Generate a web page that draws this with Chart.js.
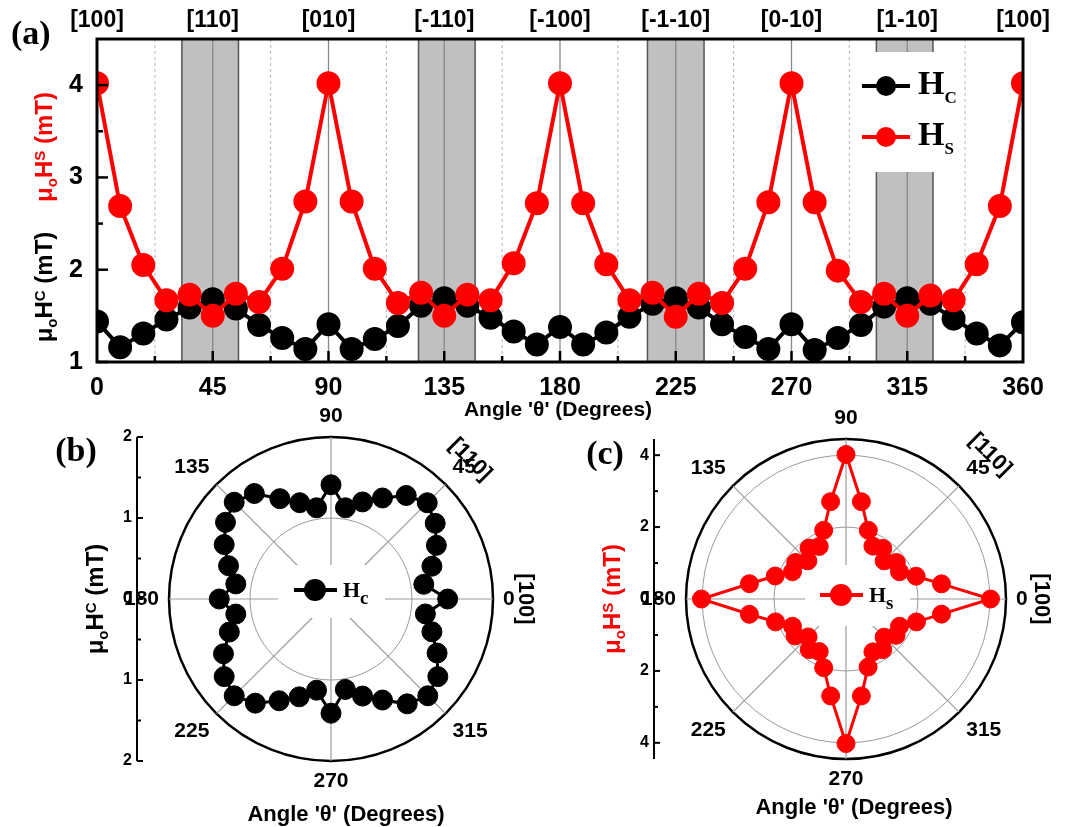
<!DOCTYPE html>
<html>
<head>
<meta charset="utf-8">
<title>Hc / Hs angular dependence</title>
<script src="https://cdn.jsdelivr.net/npm/chart.js@4.4.0/dist/chart.umd.min.js"></script>
<style>
  body { margin: 0; background: #fff; }
  .panel { position: absolute; }
</style>
</head>
<body>
<div class="panel" style="left:0;top:0;width:1065px;height:420px"><canvas id="chartA"></canvas></div>
<div class="panel" style="left:0;top:395px;width:550px;height:432px"><canvas id="chartB"></canvas></div>
<div class="panel" style="left:530px;top:395px;width:535px;height:432px"><canvas id="chartC"></canvas></div>
<script>
// angle (deg) of every measurement
const angles = [0, 9, 18, 27, 36, 45, 54, 63, 72, 81, 90, 99, 108, 117, 126, 135, 144, 153, 162, 171,
    180, 189, 198, 207, 216, 225, 234, 243, 252, 261, 270, 279, 288, 297, 306, 315, 324, 333, 342, 351, 360];
// coercive field Hc (mT)
const hc = [1.44, 1.16, 1.31, 1.46, 1.59, 1.68, 1.58, 1.40, 1.26, 1.14, 1.41, 1.14, 1.25, 1.39, 1.61, 1.69,
    1.61, 1.48, 1.33, 1.19, 1.38, 1.19, 1.32, 1.49, 1.63, 1.69, 1.59, 1.41, 1.27, 1.14, 1.41, 1.13, 1.26,
    1.40, 1.60, 1.69, 1.63, 1.47, 1.31, 1.18, 1.43];
// saturation field Hs (mT)
const hs = [4.02, 2.69, 2.05, 1.67, 1.73, 1.50, 1.74, 1.65, 2.01, 2.74, 4.02, 2.74, 2.01, 1.64, 1.75, 1.50,
    1.73, 1.67, 2.07, 2.72, 4.02, 2.72, 2.06, 1.67, 1.75, 1.49, 1.74, 1.64, 2.01, 2.73, 4.02, 2.73, 1.99,
    1.65, 1.74, 1.50, 1.72, 1.67, 2.06, 2.69, 4.02];

const xMajor = [0, 45, 90, 135, 180, 225, 270, 315, 360];
const xMinor = [22.5, 67.5, 112.5, 157.5, 202.5, 247.5, 292.5, 337.5];
const yMajor = [1, 2, 3, 4];
const yMinor = [1.5, 2.5, 3.5];
const dirLabels = ["[100]", "[110]", "[010]", "[-110]", "[-100]", "[-1-10]", "[0-10]", "[1-10]", "[100]"];
const bands = [[33, 55], [125, 147], [214, 236], [303, 325]];

const polarMarks = [0, 45, 90, 135, 180, 225, 270, 315];
// radar goes clockwise from startAngle, so list the angles backwards
const polarLabels = angles.slice(0, 40).map((a, i) => angles[(40 - i) % 40]);

const SANS = "'Liberation Sans', Arial, sans-serif";
const SERIF = "'Liberation Serif', 'Times New Roman', serif";

function drawRich(ctx, parts, x, y, rot, color) {
    ctx.save();
    ctx.translate(x, y);
    if (rot) ctx.rotate(rot);
    ctx.fillStyle = color;
    ctx.textAlign = "left";
    ctx.textBaseline = "alphabetic";
    let w = 0;
    parts.forEach(p => { ctx.font = p.font; w += ctx.measureText(p.t).width; });
    let px = -w / 2;
    parts.forEach(p => {
        ctx.font = p.font;
        ctx.fillText(p.t, px, p.dy);
        px += ctx.measureText(p.t).width;
    });
    ctx.restore();
}

function fieldTitle(letter, size) {
    const big = "bold " + size + "px " + SANS;
    const small = "bold " + Math.round(size * 0.62) + "px " + SANS;
    const b = Math.round(size * 0.35);
    return [
        { t: "\u03bc", font: big, dy: b },
        { t: "o", font: small, dy: b + 5 },
        { t: "H", font: big, dy: b },
        { t: letter, font: small, dy: b - 7 },
        { t: " (mT)", font: big, dy: b }
    ];
}

function line(ctx, x0, y0, x1, y1) {
    ctx.beginPath();
    ctx.moveTo(x0, y0);
    ctx.lineTo(x1, y1);
    ctx.stroke();
}

function legendItem(ctx, x, y, len, mx, rad, color, sub, bigSize, subSize, subDrop, gap) {
    ctx.strokeStyle = color;
    ctx.fillStyle = color;
    ctx.lineWidth = 4;
    line(ctx, x, y, x + len, y);
    ctx.beginPath();
    ctx.arc(mx, y, rad, 0, Math.PI * 2);
    ctx.fill();
    ctx.fillStyle = "#000";
    ctx.textAlign = "left";
    ctx.textBaseline = "alphabetic";
    ctx.font = "bold " + bigSize + "px " + SERIF;
    const tx = x + len + gap;
    ctx.fillText("H", tx, y + 8);
    const hw = ctx.measureText("H").width;
    ctx.font = "bold " + subSize + "px " + SERIF;
    ctx.fillText(sub, tx + hw, y + 8 + subDrop);
}

// ---------- (a) cartesian panel ----------
const panelA = {
    id: "panelA",
    beforeDatasetsDraw(chart) {
        const { ctx, chartArea: ca, scales: { x } } = chart;
        ctx.save();
        bands.forEach(b => {
            const x0 = x.getPixelForValue(b[0]);
            const x1 = x.getPixelForValue(b[1]);
            ctx.fillStyle = "#c0c0c0";
            ctx.fillRect(x0, ca.top, x1 - x0, ca.bottom - ca.top);
            ctx.strokeStyle = "#555";
            ctx.lineWidth = 1.5;
            line(ctx, x0, ca.top, x0, ca.bottom);
            line(ctx, x1, ca.top, x1, ca.bottom);
        });
        ctx.strokeStyle = "#b5b5b5";
        ctx.lineWidth = 1;
        ctx.setLineDash([3, 3]);
        xMinor.forEach(v => {
            const px = x.getPixelForValue(v);
            line(ctx, px, ca.top, px, ca.bottom);
        });
        ctx.setLineDash([]);
        ctx.strokeStyle = "#888";
        ctx.lineWidth = 1.3;
        xMajor.slice(1, -1).forEach(v => {
            const px = x.getPixelForValue(v);
            line(ctx, px, ca.top, px, ca.bottom);
        });
        // white box behind the legend
        ctx.fillStyle = "#fff";
        ctx.fillRect(ca.right - 165, ca.top + 13, 97, 120);
        ctx.restore();
    },
    afterDatasetsDraw(chart) {
        const { ctx, chartArea: ca, scales: { x, y } } = chart;
        ctx.save();
        ctx.strokeStyle = "#000";
        ctx.lineWidth = 3;
        ctx.strokeRect(ca.left, ca.top, ca.right - ca.left, ca.bottom - ca.top);
        ctx.lineWidth = 2.5;
        xMajor.slice(1, -1).forEach(v => {
            const px = x.getPixelForValue(v);
            line(ctx, px, ca.bottom, px, ca.bottom - 11);
        });
        xMinor.forEach(v => {
            const px = x.getPixelForValue(v);
            line(ctx, px, ca.bottom, px, ca.bottom - 6);
        });
        yMajor.forEach(v => {
            const py = y.getPixelForValue(v);
            line(ctx, ca.left, py, ca.left + 11, py);
        });
        yMinor.forEach(v => {
            const py = y.getPixelForValue(v);
            line(ctx, ca.left, py, ca.left + 6, py);
        });
        // legend
        legendItem(ctx, ca.right - 161, ca.top + 47, 48, ca.right - 137, 10, "#000", "C", 34, 17, 9, 8);
        legendItem(ctx, ca.right - 161, ca.top + 98, 48, ca.right - 137, 10, "#ff0000", "S", 34, 17, 9, 8);
        ctx.restore();
    },
    afterDraw(chart) {
        const { ctx, chartArea: ca } = chart;
        ctx.save();
        ctx.fillStyle = "#000";
        ctx.font = "bold 34px " + SERIF;
        ctx.textAlign = "left";
        ctx.textBaseline = "alphabetic";
        ctx.fillText("(a)", 11, 44);
        ctx.font = "bold 21px " + SANS;
        ctx.textAlign = "center";
        ctx.textBaseline = "middle";
        ctx.fillText("Angle '\u03b8' (Degrees)", (ca.left + ca.right) / 2 - 2, 410);
        ctx.restore();
        drawRich(ctx, fieldTitle("S", 24), 44, 147, -Math.PI / 2, "#ff0000");
        drawRich(ctx, fieldTitle("C", 24), 44, 287, -Math.PI / 2, "#000");
    }
};

new Chart(document.getElementById("chartA"), {
    type: "line",
    data: {
        datasets: [
            {
                label: "Hc",
                data: angles.map((a, i) => ({ x: a, y: hc[i] })),
                borderColor: "#000",
                backgroundColor: "#000",
                pointBackgroundColor: "#000",
                pointBorderColor: "#000",
                borderWidth: 4,
                pointRadius: 10,
                order: 2
            },
            {
                label: "Hs",
                data: angles.map((a, i) => ({ x: a, y: hs[i] })),
                borderColor: "#ff0000",
                backgroundColor: "#ff0000",
                pointBackgroundColor: "#ff0000",
                pointBorderColor: "#ff0000",
                borderWidth: 4,
                pointRadius: 10,
                order: 1
            }
        ]
    },
    options: {
        animation: false,
        responsive: true,
        maintainAspectRatio: false,
        events: [],
        layout: { padding: { left: 0, right: 42, top: 0, bottom: 0 } },
        plugins: { legend: { display: false }, tooltip: { enabled: false } },
        scales: {
            x: {
                type: "linear",
                position: "bottom",
                min: 0,
                max: 360,
                afterFit: s => { s.height = 58; },
                grid: { display: false, drawTicks: false },
                border: { display: false },
                ticks: {
                    stepSize: 45,
                    padding: 11,
                    maxRotation: 0,
                    autoSkip: false,
                    color: "#000",
                    font: { family: SANS, size: 25, weight: "bold" }
                }
            },
            xTop: {
                type: "linear",
                axis: "x",
                position: "top",
                min: 0,
                max: 360,
                afterFit: s => { s.height = 39; },
                grid: { display: false, drawTicks: false },
                border: { display: false },
                ticks: {
                    stepSize: 45,
                    padding: 5,
                    maxRotation: 0,
                    autoSkip: false,
                    color: "#000",
                    font: { family: SANS, size: 23, weight: "bold" },
                    callback: v => dirLabels[Math.round(v / 45)]
                }
            },
            y: {
                type: "linear",
                min: 1,
                max: 4.5,
                afterFit: s => { s.width = 97; },
                grid: { display: false, drawTicks: false },
                border: { display: false },
                ticks: {
                    stepSize: 1,
                    padding: 14,
                    color: "#000",
                    font: { family: SANS, size: 25, weight: "bold" },
                    callback: v => Number.isInteger(v) ? v : ""
                }
            }
        }
    },
    plugins: [panelA]
});

// ---------- (b), (c) polar panels ----------
function makePolar(id, series, o) {
    const values = polarLabels.map((a, i) => series[(40 - i) % 40]);

    const deco = {
        id: "polarDeco",
        beforeDatasetsDraw(chart) {
            const ctx = chart.ctx;
            const r = chart.scales.r;
            // white box behind the centre legend, under the data
            ctx.save();
            ctx.fillStyle = "#fff";
            ctx.fillRect(r.xCenter + o.box[0], r.yCenter + o.box[1], o.box[2], o.box[3]);
            ctx.restore();
        },
        afterDatasetsDraw(chart) {
            const ctx = chart.ctx;
            const r = chart.scales.r;
            const cx = r.xCenter, cy = r.yCenter, R = r.drawingArea;
            ctx.save();

            // legend in the middle
            ctx.strokeStyle = o.color;
            ctx.fillStyle = o.color;
            ctx.lineWidth = 4;
            line(ctx, cx + o.leg[0], cy + o.leg[1], cx + o.leg[0] + 43, cy + o.leg[1]);
            ctx.beginPath();
            ctx.arc(cx + o.leg[0] + 21, cy + o.leg[1], 11, 0, Math.PI * 2);
            ctx.fill();
            ctx.fillStyle = "#000";
            ctx.textAlign = "left";
            ctx.textBaseline = "alphabetic";
            ctx.font = "bold 22px " + SERIF;
            ctx.fillText("H", cx + o.leg[0] + 49, cy + o.leg[1] + 7);
            const hw = ctx.measureText("H").width;
            ctx.font = "bold 19px " + SERIF;
            ctx.fillText(o.sub, cx + o.leg[0] + 49 + hw, cy + o.leg[1] + 14);

            // angle labels
            ctx.font = "bold 21px " + SANS;
            polarMarks.forEach(a => {
                const i = polarLabels.indexOf(a);
                const p = r.getPointPosition(i, R + 10);
                const c = Math.cos(a * Math.PI / 180), s = Math.sin(a * Math.PI / 180);
                ctx.textAlign = c > 0.3 ? "left" : (c < -0.3 ? "right" : "center");
                ctx.textBaseline = s > 0.3 ? "bottom" : (s < -0.3 ? "top" : "middle");
                ctx.fillText(String(a), p.x, p.y);
            });

            // crystal directions
            ctx.textAlign = "center";
            ctx.textBaseline = "middle";
            ctx.font = "bold 22px " + SANS;
            const p110 = r.getPointPosition(polarLabels.indexOf(45), o.d110);
            ctx.save();
            ctx.translate(p110.x, p110.y);
            ctx.rotate(Math.PI / 4);
            ctx.fillText("[110]", 0, 0);
            ctx.restore();
            const p100 = r.getPointPosition(0, o.d100);
            ctx.save();
            ctx.translate(p100.x, p100.y);
            ctx.rotate(Math.PI / 2);
            ctx.fillText("[100]", 0, 0);
            ctx.restore();

            // vertical magnitude axis on the left
            const ax = cx - R - 32;
            ctx.strokeStyle = "#000";
            ctx.lineWidth = 2;
            line(ctx, ax, cy - R, ax, cy + R);
            ctx.fillStyle = "#000";
            ctx.font = "bold 16px " + SANS;
            ctx.textAlign = "right";
            ctx.textBaseline = "middle";
            o.major.forEach(v => {
                const d = r.getDistanceFromCenterForValue(v);
                [-1, 1].forEach(sg => {
                    line(ctx, ax, cy + sg * d, ax + 6, cy + sg * d);
                    ctx.fillText(String(v), ax - 5, cy + sg * d);
                });
            });
            o.minor.forEach(v => {
                const d = r.getDistanceFromCenterForValue(v);
                line(ctx, ax, cy - d, ax + 4, cy - d);
                line(ctx, ax, cy + d, ax + 4, cy + d);
            });
            ctx.restore();

            drawRich(ctx, fieldTitle(o.sub.toUpperCase(), 24), ax - 42, cy, -Math.PI / 2, o.titleColor);

            ctx.save();
            ctx.fillStyle = "#000";
            ctx.font = "bold 22px " + SANS;
            ctx.textAlign = "center";
            ctx.textBaseline = "middle";
            ctx.fillText("Angle '\u03b8' (Degrees)", cx + o.xt[0], cy + o.xt[1]);
            ctx.font = "bold 34px " + SERIF;
            ctx.fillText(o.panel, cx + o.pl[0], cy + o.pl[1]);
            ctx.restore();
        }
    };

    return new Chart(document.getElementById(id), {
        type: "radar",
        data: {
            labels: polarLabels,
            datasets: [{
                label: o.sub,
                data: values,
                borderColor: o.color,
                backgroundColor: o.color,
                pointBackgroundColor: o.color,
                pointBorderColor: o.color,
                borderWidth: 3,
                pointRadius: o.rad,
                pointBorderWidth: 1,
                fill: false,
                tension: 0
            }]
        },
        options: {
            animation: false,
            responsive: true,
            maintainAspectRatio: false,
            events: [],
            layout: { padding: o.pad },
            plugins: { legend: { display: false }, tooltip: { enabled: false } },
            scales: {
                r: {
                    min: 0,
                    max: o.max,
                    startAngle: 90,
                    ticks: { display: false, stepSize: o.step },
                    pointLabels: { display: false },
                    grid: {
                        circular: true,
                        color: c => (c.tick && c.tick.value >= o.max - 1e-6) ? "#000" : "#9a9a9a",
                        lineWidth: c => (c.tick && c.tick.value >= o.max - 1e-6) ? 2.5 : 1
                    },
                    angleLines: {
                        display: true,
                        color: c => polarLabels[c.index] % 45 === 0 ? "#9a9a9a" : "rgba(0,0,0,0)",
                        lineWidth: c => polarLabels[c.index] % 45 === 0 ? 1.2 : 0
                    }
                }
            }
        },
        plugins: [deco]
    });
}

makePolar("chartB", hc, {
    max: 2, step: 1, major: [0, 1, 2], minor: [0.5, 1.5],
    color: "#000", titleColor: "#000", sub: "c", rad: 10,
    pad: { left: 169, right: 57, top: 42, bottom: 66 },
    box: [-53, -34, 107, 53], leg: [-37, -9],
    d110: 197, d100: 194, xt: [15, 216], pl: [-255, -147], panel: "(b)"
});

makePolar("chartC", hs, {
    max: 4.45, step: 2, major: [0, 2, 4], minor: [1, 3],
    color: "#ff0000", titleColor: "#ff0000", sub: "s", rad: 9,
    pad: { left: 156, right: 59, top: 44, bottom: 68 },
    box: [-41, -34, 105, 61], leg: [-26, -4],
    d110: 204, d100: 195, xt: [8, 209], pl: [-241, -144], panel: "(c)"
});
</script>
</body>
</html>
